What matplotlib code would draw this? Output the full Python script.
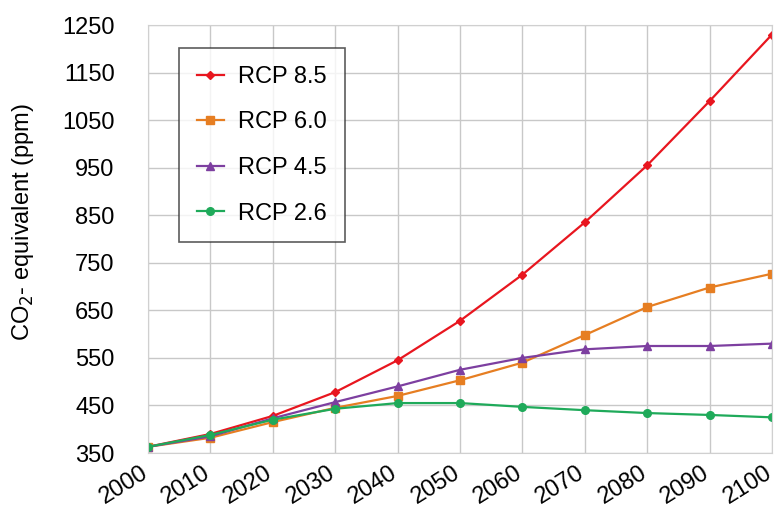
import matplotlib.pyplot as plt
import matplotlib.transforms as mtransforms

plt.rcParams['font.family'] = ['Liberation Sans', 'DejaVu Sans']

years = [2000, 2010, 2020, 2030, 2040, 2050, 2060, 2070, 2080, 2090, 2100]
rcp85 = [363, 390, 428, 478, 545, 628, 725, 835, 955, 1090, 1230]
rcp60 = [363, 382, 415, 445, 470, 503, 540, 598, 657, 698, 727]
rcp45 = [363, 385, 423, 457, 490, 525, 550, 568, 575, 575, 580]
rcp26 = [363, 388, 420, 443, 455, 455, 447, 440, 434, 430, 425]
yticks = list(range(350, 1251, 100))

fig = plt.figure(figsize=(7.82, 5.07), dpi=100)
ax = fig.add_axes([148 / 782, 1 - 453 / 507, 624 / 782, 428 / 507])

series = [
    (rcp85, 'RCP 8.5', '#e8161f', 'D', 4.5),
    (rcp60, 'RCP 6.0', '#e67e22', 's', 5.5),
    (rcp45, 'RCP 4.5', '#7d3fa0', '^', 5.5),
    (rcp26, 'RCP 2.6', '#1faa5a', 'o', 5.5),
]
for vals, lab, col, mk, ms in series:
    ax.plot(years, vals, color=col, marker=mk, markersize=ms, lw=1.6, label=lab)

ax.set_xlim(2000, 2100)
ax.set_ylim(350, 1250)
ax.set_xticks(years)
ax.set_yticks(yticks)
ax.tick_params(axis='x', labelsize=17, rotation=32, length=0, pad=6)
ax.tick_params(axis='y', labelsize=17, length=0, pad=24)
# nudge the rotated year labels left a little so 2100 stays inside the figure
shift = mtransforms.ScaledTranslation(-8 / 100, 0, fig.dpi_scale_trans)
for t in ax.get_xticklabels():
    t.set_ha('right')
    t.set_rotation_mode('anchor')
    t.set_transform(t.get_transform() + shift)
ax.grid(True, color='#c8c8c8', lw=1)
for s in ax.spines.values():
    s.set_color('#d0d0d0')
ax.set_ylabel('CO$_2$- equivalent (ppm)', fontsize=17)
ax.yaxis.set_label_coords(-0.18, 0.54)

leg = ax.legend(loc='upper left', bbox_to_anchor=(0.05, 0.946), fontsize=17,
                frameon=True, fancybox=False, edgecolor='#333333',
                borderpad=0.75, labelspacing=1.0, handlelength=1.15,
                handletextpad=0.6, borderaxespad=0)
leg.get_frame().set_linewidth(1.2)

fig.savefig('out.png', dpi=100)
